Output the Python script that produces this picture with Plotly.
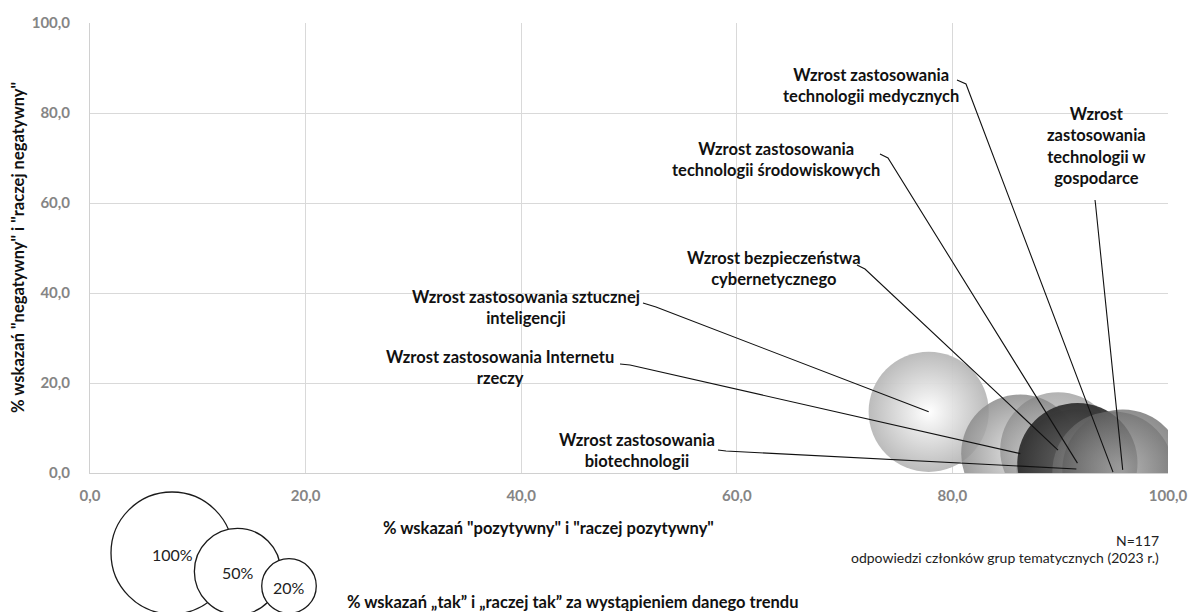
import plotly.graph_objects as go

# ---------------- data ----------------
trend_labels = [
    "Wzrost zastosowania sztucznej<br>inteligencji",
    "Wzrost zastosowania Internetu<br>rzeczy",
    "Wzrost bezpieczeństwa<br>cybernetycznego",
    "Wzrost zastosowania<br>biotechnologii",
    "Wzrost zastosowania<br>technologii środowiskowych",
    "Wzrost zastosowania<br>technologii medycznych",
    "Wzrost<br>zastosowania<br>technologii w<br>gospodarce",
]
pct_positive = [77.8, 86.3, 89.8, 91.5, 91.6, 94.9, 95.8]
pct_negative = [13.6, 4.3, 5.1, 0.9, 2.2, 0.2, 0.7]
pct_trend_yes = [97, 94, 90, 96, 97, 99, 98]

legend_sizes = [100, 50, 20]
legend_texts = ["100%", "50%", "20%"]

tick_vals = [0, 20, 40, 60, 80, 100]
tick_labels = ["0,0", "20,0", "40,0", "60,0", "80,0", "100,0"]

# ---------------- styling ----------------
edge_colors = ["#b8b8b8", "#8c8c8c", "#808080", "#7c7c7c", "#2c2c2c", "#787878", "#5e5e5e"]
center_colors = ["#ffffff", "#e2e2e2", "#cccccc", "#c6c6c6", "#606060", "#c2c2c2", "#a6a6a6"]
opacities = [0.95, 0.85, 0.6, 0.6, 0.92, 0.55, 0.7]

W, H = 1192, 612
L, R, T, B = 90, 24, 23, 139
PW, PH = W - L - R, H - T - B


def px2p(px):
    return (px - L) / PW


def py2p(py):
    return (T + PH - py) / PH


def px2x(px):
    return px2p(px) * 100


def py2y(py):
    return py2p(py) * 100


# plotly area mode: diameter = sqrt(2 * size / sizeref)  ->  100% = 122 px
SIZEREF = 2 * 100 / (122 ** 2)
font_main = "Lato, 'Open Sans', sans-serif"
TXT = "#111111"

fig = go.Figure()

fig.add_trace(go.Scatter(
    x=pct_positive, y=pct_negative, mode="markers",
    marker=dict(
        size=pct_trend_yes, sizemode="area", sizeref=SIZEREF,
        color=edge_colors, opacity=opacities,
        gradient=dict(type="radial", color=center_colors),
        line=dict(width=0),
    ),
    hoverinfo="skip", showlegend=False, cliponaxis=True,
))

# legend bubbles (below the plot, same area scale as the data bubbles)
leg_px = [(172, 553), (237.5, 571.5), (289, 586)]
for (cx, cy), s, t in zip(leg_px, legend_sizes, legend_texts):
    r = (2 * s / SIZEREF) ** 0.5 / 2
    fig.add_shape(type="circle", xref="paper", yref="paper",
                  xsizemode="pixel", ysizemode="pixel",
                  xanchor=px2p(cx), yanchor=py2p(cy),
                  x0=-r, x1=r, y0=-r, y1=r,
                  fillcolor="white", line=dict(color="#1a1a1a", width=1.3), layer="above")
    fig.add_annotation(x=px2p(cx), y=py2p(cy + 1), xref="paper", yref="paper",
                       xanchor="center", yanchor="middle",
                       text=t, showarrow=False,
                       font=dict(family=font_main, size=16, color="#222222"))

# label positions (px) and leader-line start points (px)
label_pos = [(526, 307), (500, 367), (774, 268), (637, 450), (776, 160), (871, 85), (1096, 146)]
leader_start = [
    [(643, 303), (656, 307)],
    [(620, 364), (630, 365)],
    [(857, 265), (865, 269)],
    [(718, 450), (726, 451)],
    [(880, 154), (888, 158)],
    [(957, 80), (966, 84)],
    [(1095, 200), (1095.5, 204)],
]

for i, txt in enumerate(trend_labels):
    fig.add_annotation(
        x=px2p(label_pos[i][0]), y=py2p(label_pos[i][1]), xref="paper", yref="paper",
        text=txt, showarrow=False, align="center",
        font=dict(family=font_main, size=16.5, color=TXT, weight="bold"),
        xanchor="center", yanchor="middle",
    )
    pts = [(px2x(a), py2y(b)) for a, b in leader_start[i]] + [(pct_positive[i], pct_negative[i])]
    path = "M " + " L ".join(f"{px:.3f},{py:.3f}" for px, py in pts)
    fig.add_shape(type="path", path=path, xref="x", yref="y",
                  line=dict(color=TXT, width=1.1), layer="above")

# other texts
fig.add_annotation(x=px2p(548), y=py2p(528), xref="paper", yref="paper",
                   xanchor="center", yanchor="middle",
                   text='% wskazań "pozytywny" i "raczej pozytywny"', showarrow=False,
                   font=dict(family=font_main, size=16.5, color=TXT, weight="bold"))
fig.add_annotation(x=px2p(345), y=py2p(602), xref="paper", yref="paper",
                   xanchor="left", yanchor="middle",
                   text='% wskazań „tak” i „raczej tak” za wystąpieniem danego trendu', showarrow=False,
                   font=dict(family=font_main, size=16.5, color=TXT, weight="bold"))
fig.add_annotation(x=px2p(1161), y=py2p(540), xref="paper", yref="paper",
                   xanchor="right", yanchor="middle",
                   text="N=117", showarrow=False,
                   font=dict(family=font_main, size=14, color="#222222"))
fig.add_annotation(x=px2p(1161), y=py2p(557), xref="paper", yref="paper",
                   xanchor="right", yanchor="middle",
                   text="odpowiedzi członków grup tematycznych (2023 r.)", showarrow=False,
                   font=dict(family=font_main, size=14, color="#222222"))
fig.add_annotation(x=px2p(18), y=py2p(248), xref="paper", yref="paper", textangle=-90,
                   xanchor="center", yanchor="middle",
                   text='% wskazań "negatywny" i "raczej negatywny"', showarrow=False,
                   font=dict(family=font_main, size=16.5, color=TXT, weight="bold"))

axis_font = dict(family=font_main, size=15, color="#858585", weight="bold")
fig.update_layout(
    width=W, height=H,
    margin=dict(l=L, r=R, t=T, b=B, pad=0, autoexpand=False),
    plot_bgcolor="white", paper_bgcolor="white",
    xaxis=dict(range=[0, 100], tickvals=tick_vals, ticktext=tick_labels,
               showgrid=True, gridcolor="#d9d9d9", gridwidth=1, zeroline=False,
               showline=True, linecolor="#d0d0d0", ticks="", tickfont=axis_font,
               ticklabelstandoff=9, fixedrange=True, automargin=False),
    yaxis=dict(range=[0, 100], tickvals=tick_vals, ticktext=tick_labels,
               showgrid=True, gridcolor="#d9d9d9", gridwidth=1, zeroline=False,
               showline=True, linecolor="#d0d0d0", ticks="", tickfont=axis_font,
               ticklabelstandoff=16, fixedrange=True, automargin=False),
    showlegend=False,
)

fig.write_html(
    "out.html",
    config={"displayModeBar": False},
    post_script="document.body.style.margin='0px';document.body.style.overflow='hidden';",
)
